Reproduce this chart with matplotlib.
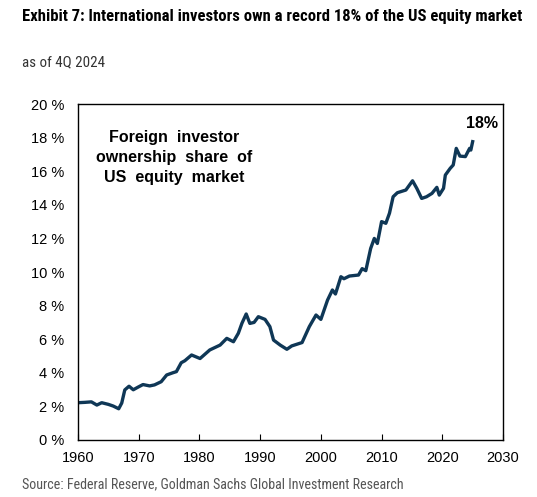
import matplotlib
matplotlib.use("Agg")
import matplotlib.pyplot as plt
from matplotlib import font_manager
from matplotlib.ticker import FuncFormatter

# values (year, % of US equity owned by foreign investors)
years = [1960.0, 1961.1, 1962.2, 1963.1, 1963.9, 1965.0, 1965.8, 1966.7, 1967.2, 1967.7,
         1968.4, 1969.1, 1969.9, 1970.7, 1971.8, 1972.6, 1973.7, 1974.6, 1975.6, 1976.2,
         1977.0, 1977.6, 1978.7, 1980.1, 1981.7, 1983.4, 1984.5, 1985.6, 1986.4, 1987.0,
         1987.7, 1988.3, 1989.0, 1989.7, 1990.8, 1991.6, 1992.2, 1993.3, 1994.4, 1995.2,
         1996.9, 1998.1, 1999.2, 2000.0, 2001.1, 2001.9, 2002.4, 2003.3, 2003.8, 2004.7,
         2006.2, 2006.8, 2007.4, 2008.2, 2008.8, 2009.3, 2010.0, 2010.7, 2011.3, 2011.9,
         2012.6, 2014.0, 2015.1, 2015.8, 2016.6, 2017.4, 2018.3, 2019.1, 2019.5, 2020.2,
         2020.5, 2021.3, 2021.8, 2022.3, 2022.9, 2023.8, 2024.5, 2024.7, 2025.0]
share = [2.22, 2.24, 2.27, 2.08, 2.22, 2.12, 2.02, 1.86, 2.20, 2.98,
         3.20, 2.99, 3.15, 3.30, 3.22, 3.28, 3.47, 3.87, 4.00, 4.07,
         4.60, 4.72, 5.06, 4.85, 5.36, 5.65, 6.05, 5.85, 6.35, 6.95,
         7.50, 6.94, 7.00, 7.34, 7.18, 6.75, 5.95, 5.65, 5.40, 5.60,
         5.80, 6.75, 7.44, 7.18, 8.33, 8.93, 8.69, 9.72, 9.60, 9.76,
         9.82, 10.20, 10.08, 11.40, 12.00, 11.70, 13.00, 12.90, 13.50, 14.48,
         14.72, 14.88, 15.43, 14.98, 14.38, 14.48, 14.68, 15.04, 14.58, 14.98,
         15.77, 16.17, 16.37, 17.36, 16.90, 16.87, 17.36, 17.26, 17.76]

x_ticks = [1960, 1970, 1980, 1990, 2000, 2010, 2020, 2030]
y_ticks = [0, 2, 4, 6, 8, 10, 12, 14, 16, 18, 20]

title = "Exhibit 7: International investors own a record 18% of the US equity market"
subtitle = "as of 4Q 2024"
source = "Source: Federal Reserve, Goldman Sachs Global Investment Research"
inner_label = "Foreign  investor\nownership  share  of\nUS  equity  market"
end_label = "18%"

plt.rcParams["font.family"] = ["Liberation Sans", "DejaVu Sans"]

# pick a narrow face for the header/footer if one is installed
installed = {f.name for f in font_manager.fontManager.ttflist}
narrow_stretch = "normal"
narrow = ["Liberation Sans", "DejaVu Sans"]
for name in ["Liberation Sans Narrow", "DejaVu Sans Condensed", "Roboto Condensed",
             "Open Sans Condensed", "Noto Sans Condensed"]:
    if name in installed:
        narrow = [name, "DejaVu Sans"]
        break
else:
    if any(f.name == "DejaVu Sans" and f.stretch == "condensed"
           for f in font_manager.fontManager.ttflist):
        narrow = ["DejaVu Sans"]
        narrow_stretch = "condensed"
is_narrow = narrow_stretch != "normal" or narrow[0] != "Liberation Sans"

navy = "#0f3756"

fig = plt.figure(figsize=(5.37, 4.97), dpi=100)
ax = fig.add_axes([0.1453, 0.1147, 0.7914, 0.676])

ax.plot(years, share, color=navy, lw=2.4, solid_joinstyle="round")

ax.set_xlim(1960, 2030)
ax.set_ylim(0, 20)
ax.set_xticks(x_ticks)
ax.set_yticks(y_ticks)
ax.yaxis.set_major_formatter(FuncFormatter(lambda v, p: f"{v:.0f} %"))
ax.tick_params(axis="x", direction="in", length=4, width=0.8, pad=8, labelsize=10.5)
ax.tick_params(axis="y", length=0, pad=10, labelsize=10.5)
for sp in ax.spines.values():
    sp.set_linewidth(1.0)
    sp.set_color("black")

ax.text(1975.9, 16.8, inner_label, ha="center", va="center", fontsize=11.5,
        fontweight="bold", linespacing=1.4)
ax.text(2026.5, 18.85, end_label, ha="center", va="center", fontsize=11.5,
        fontweight="bold")

scale = 1.0 if is_narrow else 0.78
fig.text(22 / 537, 1 - 16 / 497, title, ha="left", va="center", fontsize=12.0 * scale,
         fontweight="bold", family=narrow, fontstretch=narrow_stretch)
fig.text(22 / 537, 1 - 62 / 497, subtitle, ha="left", va="center", fontsize=10.8 * scale,
         color="#333333", family=narrow, fontstretch=narrow_stretch)
fig.text(22 / 537, 1 - 484 / 497, source, ha="left", va="center", fontsize=10.1 * scale,
         color="#555555", family=narrow, fontstretch=narrow_stretch)

fig.savefig("out.png", dpi=100)
